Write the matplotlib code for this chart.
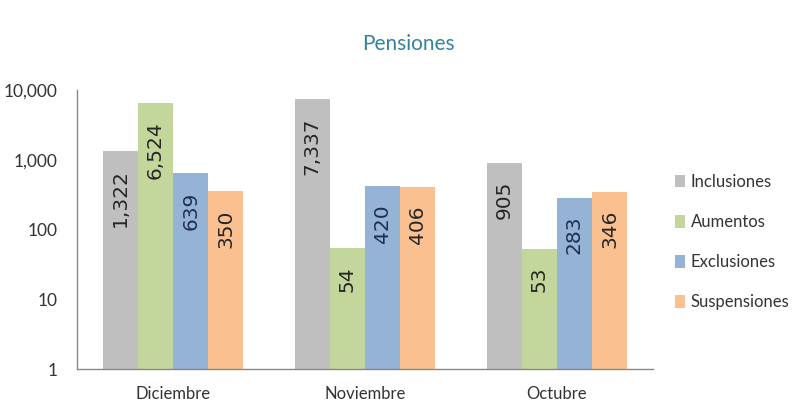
import matplotlib
matplotlib.use("Agg")
import matplotlib.pyplot as plt
import numpy as np
from matplotlib.ticker import FixedLocator, FuncFormatter

categories = ["Diciembre", "Noviembre", "Octubre"]
series_names = ["Inclusiones", "Aumentos", "Exclusiones", "Suspensiones"]
inclusiones = [1322, 7337, 905]
aumentos = [6524, 54, 53]
exclusiones = [639, 420, 283]
suspensiones = [350, 406, 346]
y_ticks = [1, 10, 100, 1000, 10000]
title = "Pensiones"

series_values = [inclusiones, aumentos, exclusiones, suspensiones]
colors = ["#BFBFBF", "#C3D69B", "#95B3D7", "#FAC08F"]
label_colors = ["#262626", "#262626", "#1F2F4F", "#262626"]

fig = plt.figure(figsize=(8.04, 4.12), dpi=100)
ax = fig.add_axes([0.096, 0.104, 0.716, 0.678])

x = np.arange(len(categories))
bw = 0.183
for i, (name, vals, c) in enumerate(zip(series_names, series_values, colors)):
    pos = x + (i - 1.5) * bw
    ax.bar(pos, vals, width=bw, color=c, label=name, zorder=2)
    for p, v in zip(pos, vals):
        ax.annotate(f"{v:,}", xy=(p, v), xytext=(0, -13), textcoords="offset points",
                    rotation=90, ha="center", va="top", fontsize=14.5,
                    family="DejaVu Sans", color=label_colors[i], zorder=3)

ax.set_yscale("log")
ax.set_ylim(1, 10000)
ax.set_xlim(-0.5, 2.5)
ax.yaxis.set_major_locator(FixedLocator(y_ticks))
ax.yaxis.set_minor_locator(FixedLocator([]))
ax.yaxis.set_major_formatter(FuncFormatter(lambda v, p: f"{int(v):,}"))
ax.set_xticks(x)
ax.set_xticklabels(categories)

for s in ["top", "right"]:
    ax.spines[s].set_visible(False)
for s in ["left", "bottom"]:
    ax.spines[s].set_color("#888888")
    ax.spines[s].set_linewidth(1.0)
ax.tick_params(axis="y", length=0, pad=14, labelsize=12.5, labelcolor="#333333")
ax.tick_params(axis="x", length=0, pad=12, labelsize=12, labelcolor="#333333")
for lab in ax.get_yticklabels() + ax.get_xticklabels():
    lab.set_family("Lato")

fig.text(0.508, 0.893, title, ha="center", va="center", fontsize=15,
         color="#31849B", family="Lato")

leg = ax.legend(loc="center left", bbox_to_anchor=(1.012, 0.455), frameon=False,
                prop={"family": "Lato", "size": 12}, handlelength=0.6,
                handleheight=0.8, handletextpad=0.35, labelspacing=1.45,
                labelcolor="#333333")

fig.savefig("out.png", dpi=100, facecolor="white")
